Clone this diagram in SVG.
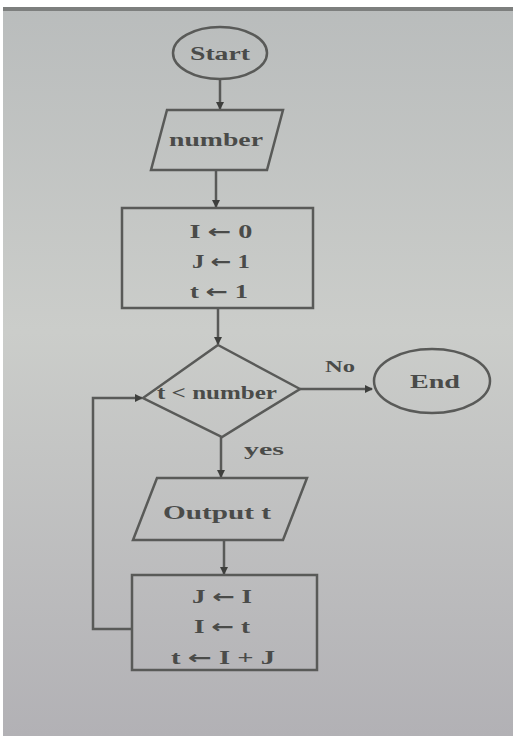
<svg xmlns="http://www.w3.org/2000/svg" width="513" height="736" viewBox="0 0 513 736">
<style>
.shape{fill:none;stroke:#595a58;stroke-width:2.5}
.conn{fill:none;stroke:#595a58;stroke-width:2.5}
.t{font-family:"Liberation Serif","Times New Roman",serif;font-weight:bold;fill:#4a4b49;font-size:18px;text-anchor:middle}
.ar{font-family:"DejaVu Sans",sans-serif;font-weight:bold}
.lbl{font-family:"Liberation Serif","Times New Roman",serif;font-weight:bold;fill:#4a4b49;font-size:16px}
</style>
<defs>
<marker id="ah" markerWidth="8" markerHeight="8" refX="7" refY="4" orient="auto" markerUnits="userSpaceOnUse">
<path d="M0,0 L8,4 L0,8 z" fill="#3e3f3d"/>
</marker>
<linearGradient id="bg" x1="0" y1="0" x2="0" y2="1">
<stop offset="0" stop-color="#b9bcbc"/>
<stop offset="0.45" stop-color="#cbcdca"/>
<stop offset="1" stop-color="#b2b1b5"/>
</linearGradient>
</defs>
<rect x="0" y="0" width="513" height="736" fill="url(#bg)"/>
<rect x="0" y="0" width="513" height="7" fill="#ffffff"/>
<rect x="0" y="7" width="513" height="4" fill="#7d7f7e"/>
<rect x="0" y="0" width="3" height="736" fill="#ffffff"/>
<g id="connectors">
<line class="conn" x1="220" y1="79" x2="220" y2="109" marker-end="url(#ah)"/>
<line class="conn" x1="216" y1="170" x2="216" y2="207" marker-end="url(#ah)"/>
<line class="conn" x1="218" y1="308" x2="218" y2="344" marker-end="url(#ah)"/>
<line class="conn" x1="300" y1="389" x2="372" y2="389" marker-end="url(#ah)"/>
<line class="conn" x1="221" y1="437" x2="221" y2="477" marker-end="url(#ah)"/>
<line class="conn" x1="224" y1="540" x2="224" y2="574" marker-end="url(#ah)"/>
<polyline class="conn" points="132,629 93,629 93,398 142,398" marker-end="url(#ah)"/>
</g>
<g id="start">
<ellipse class="shape" cx="220" cy="53" rx="47" ry="26"/>
<text class="t" x="220" y="60" textLength="60" lengthAdjust="spacingAndGlyphs">Start</text>
</g>
<g id="input-number">
<polygon class="shape" points="167,110 283,110 267,170 151,170"/>
<text class="t" x="216" y="146" textLength="94" lengthAdjust="spacingAndGlyphs">number</text>
</g>
<g id="init">
<rect class="shape" x="122" y="208" width="191" height="100"/>
<text class="t" x="221" y="238" textLength="63" lengthAdjust="spacingAndGlyphs">I <tspan class="ar">←</tspan> 0</text>
<text class="t" x="221" y="268" textLength="58" lengthAdjust="spacingAndGlyphs">J <tspan class="ar">←</tspan> 1</text>
<text class="t" x="219" y="298" textLength="58" lengthAdjust="spacingAndGlyphs">t <tspan class="ar">←</tspan> 1</text>
</g>
<g id="decision">
<polygon class="shape" points="218,345 300,389 222,437 143,398"/>
<text class="t" x="217" y="399" textLength="120" lengthAdjust="spacingAndGlyphs">t &lt; number</text>
<text class="lbl" x="325" y="372" textLength="30" lengthAdjust="spacingAndGlyphs">No</text>
<text class="lbl" x="244" y="455" textLength="40" lengthAdjust="spacingAndGlyphs">yes</text>
</g>
<g id="end">
<ellipse class="shape" cx="432" cy="381" rx="58" ry="32"/>
<text class="t" x="435" y="388" textLength="50" lengthAdjust="spacingAndGlyphs">End</text>
</g>
<g id="output">
<polygon class="shape" points="157,478 307,478 283,540 133,540"/>
<text class="t" x="217" y="519" textLength="108" lengthAdjust="spacingAndGlyphs">Output t</text>
</g>
<g id="update">
<rect class="shape" x="132" y="575" width="185" height="95"/>
<text class="t" x="222" y="603" textLength="60" lengthAdjust="spacingAndGlyphs">J <tspan class="ar">←</tspan> I</text>
<text class="t" x="222" y="633" textLength="56" lengthAdjust="spacingAndGlyphs">I <tspan class="ar">←</tspan> t</text>
<text class="t" x="223" y="664" textLength="104" lengthAdjust="spacingAndGlyphs">t <tspan class="ar">←</tspan> I + J</text>
</g>
</svg>
